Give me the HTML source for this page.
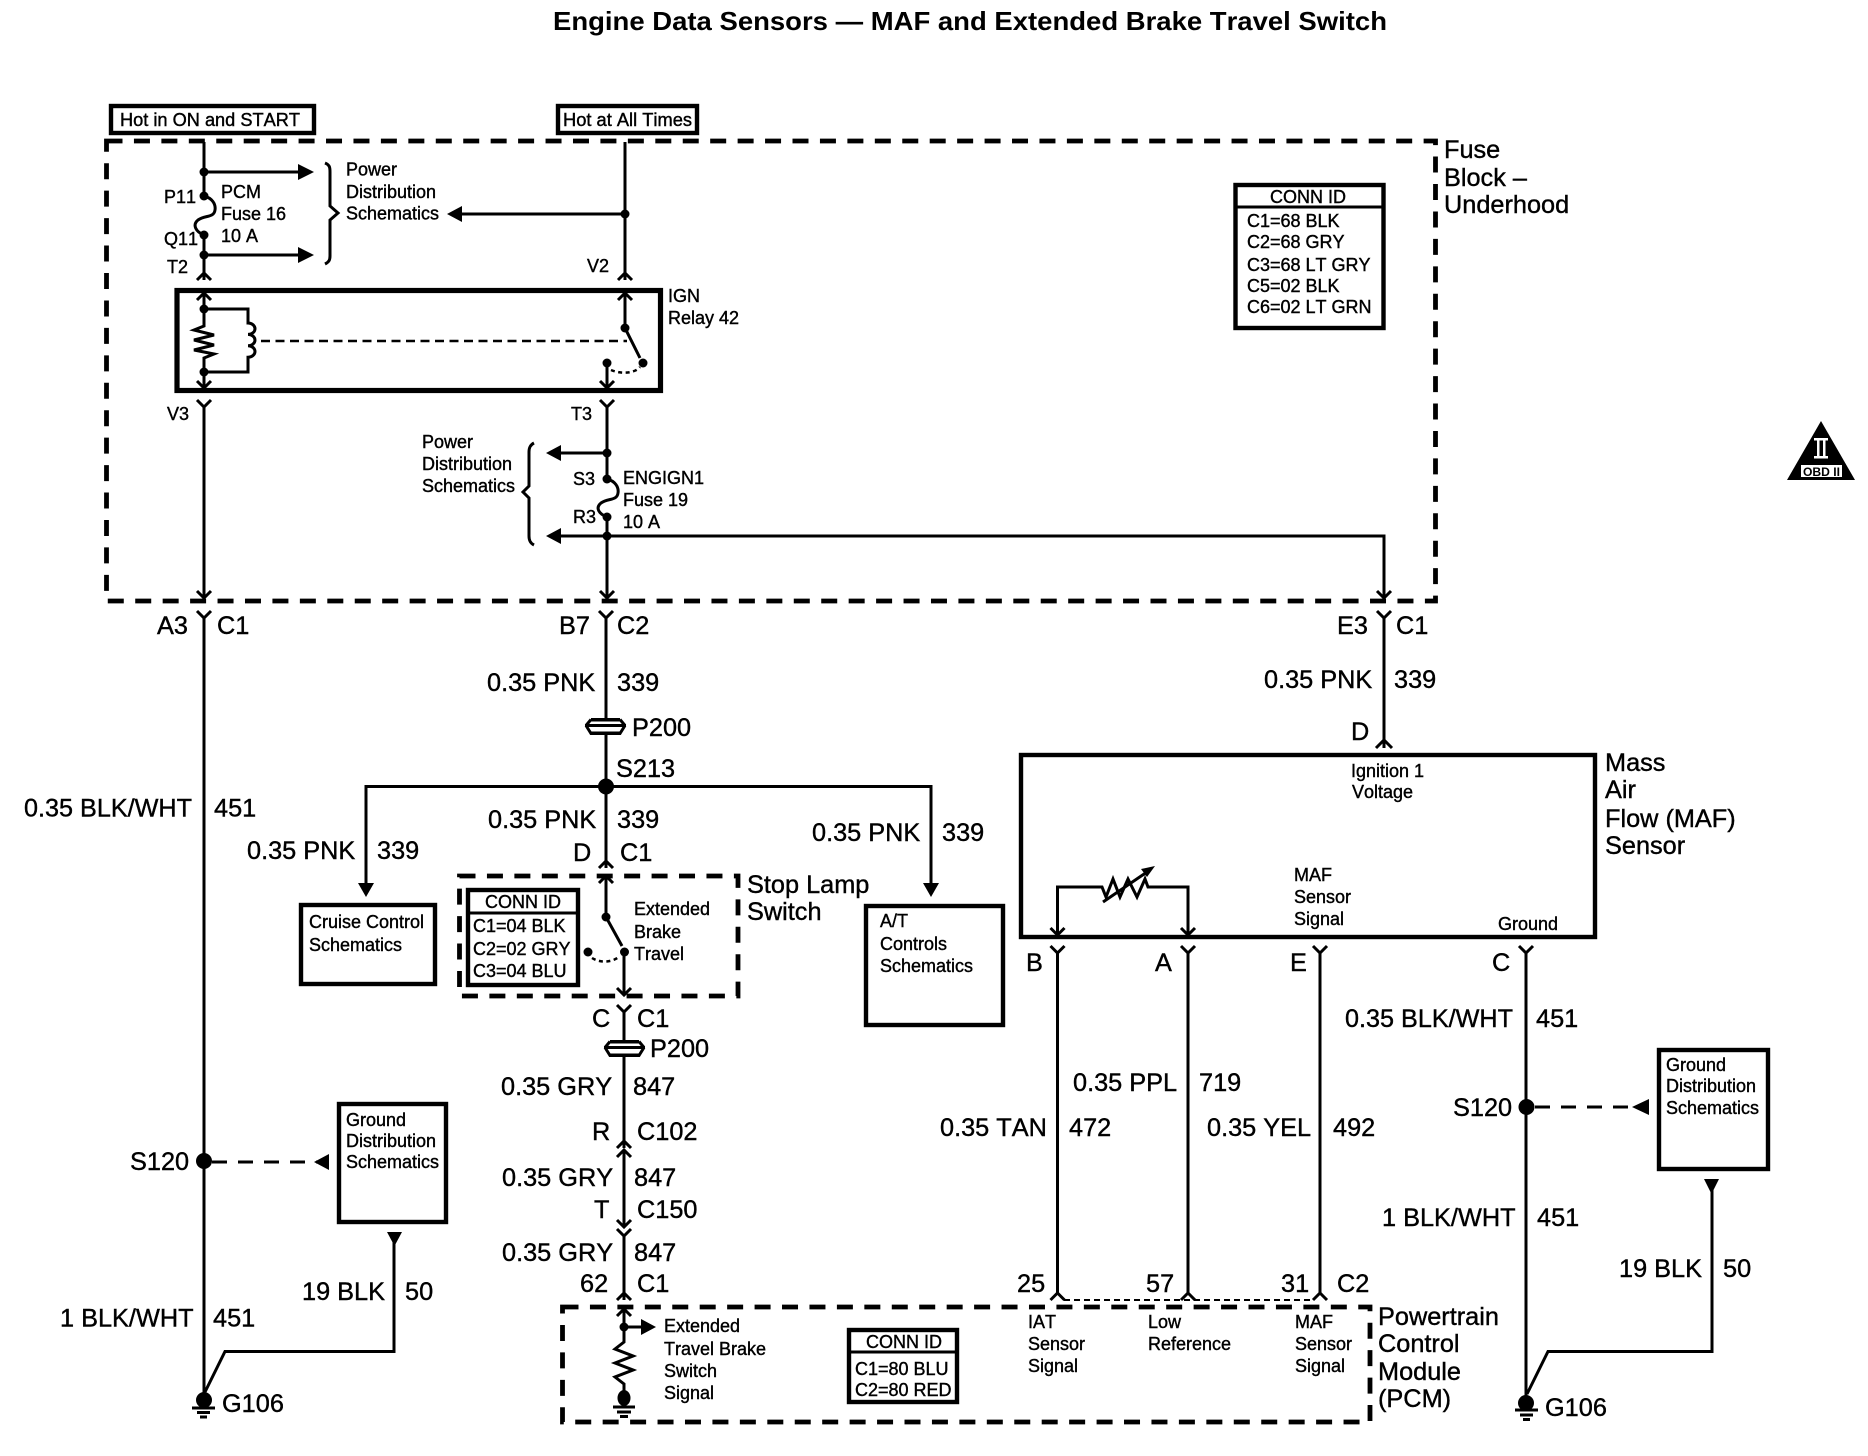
<!DOCTYPE html>
<html><head><meta charset="utf-8"><title>Engine Data Sensors</title>
<style>
html,body{margin:0;padding:0;background:#fff}
svg{display:block}
text{font-family:"Liberation Sans",sans-serif;fill:#000;stroke:#000;stroke-width:.4;font-kerning:none}
.s{font-size:18px}.l{font-size:25.3px}
.t{font-size:26px;font-weight:bold;stroke-width:0}
.w{fill:none;stroke:#000;stroke-width:3}
.b{fill:#fff;stroke:#000;stroke-width:4.4}
.d{fill:none;stroke:#000;stroke-width:4.8;stroke-dasharray:16 11.44}
.n{fill:#000;stroke:none}
</style></head><body>
<svg width="1868" height="1456" viewBox="0 0 1868 1456" xmlns="http://www.w3.org/2000/svg">
<rect width="1868" height="1456" fill="#fff"/>
<text class="t" x="553" y="30" textLength="834" lengthAdjust="spacingAndGlyphs">Engine Data Sensors — MAF and Extended Brake Travel Switch</text>

<!-- Dashed boxes -->
<rect class="d" x="106.5" y="141" width="1329" height="460"/>
<rect class="d" x="459.5" y="876" width="278.5" height="120"/>
<rect class="d" x="562.5" y="1307" width="807.5" height="115"/>

<!-- Hot boxes -->
<rect class="b" x="111" y="106" width="203" height="27"/>
<rect class="b" x="558" y="106" width="139" height="27"/>
<text class="s" x="120" y="126" textLength="180" lengthAdjust="spacingAndGlyphs">Hot in ON and START</text>
<text class="s" x="563" y="126" textLength="129" lengthAdjust="spacingAndGlyphs">Hot at All Times</text>

<!-- Left fuse feed -->
<path class="w" d="M204,142V196C212,198 216,204 215,210C214,218 205,215 198,220C192,225 196,232 204,235V280M197,280L204,273L211,280"/>
<path class="w" d="M204,172H300M204,255H300"/>
<path class="n" d="M298,164L314,172L298,180ZM298,247L314,255L298,263Z"/>
<circle class="n" cx="204" cy="172" r="4.5"/><circle class="n" cx="204" cy="196" r="4.5"/><circle class="n" cx="204" cy="235" r="4.5"/><circle class="n" cx="204" cy="255" r="4.5"/>
<path class="w" d="M325,163C330,165 330,168 330,172V206L338,213L330,220V256C330,260 329,262 325,264"/>
<text class="s" x="164" y="203">P11</text><text class="s" x="164" y="245">Q11</text><text class="s" x="167" y="273">T2</text>
<text class="s" x="221" y="198">PCM</text><text class="s" x="221" y="220">Fuse 16</text><text class="s" x="221" y="242">10 A</text>
<text class="s" x="346" y="175.5">Power</text><text class="s" x="346" y="198">Distribution</text><text class="s" x="346" y="219.5">Schematics</text>

<!-- Right feed -->
<path class="w" d="M625,142V280M618,280L625,273L632,280M625,214H460"/>
<path class="n" d="M462,206L447,214L462,222Z"/>
<circle class="n" cx="625" cy="214" r="4.5"/>
<text class="s" x="587" y="272">V2</text>

<!-- Relay -->
<rect x="177" y="290.5" width="483.5" height="100" fill="#fff" stroke="#000" stroke-width="5.2"/>
<text class="s" x="668" y="302">IGN</text><text class="s" x="668" y="324">Relay 42</text>
<path class="w" d="M204,293V326L194,330L214,335L194,340L214,345L194,350L214,354L204,358V388M197,381L204,388L211,381M197,300L204,293L211,300"/>
<path class="w" d="M204,309H248V323a7,5.7 0 0 1 0,11.4a7,5.7 0 0 1 0,11.4a7,5.7 0 0 1 0,11.4V372H204"/>
<circle class="n" cx="204" cy="309" r="4.5"/><circle class="n" cx="204" cy="372" r="4.5"/>
<path fill="none" stroke="#000" stroke-width="2.5" stroke-dasharray="9 5.5" d="M261,341H627"/>
<path class="w" d="M625,293V328L640,358M618,300L625,293L632,300M607,363V388M600,381L607,388L614,381"/>
<circle class="n" cx="625" cy="328" r="4.5"/><circle class="n" cx="643" cy="363" r="4.5"/><circle class="n" cx="607" cy="363" r="4.5"/>
<path fill="none" stroke="#000" stroke-width="2.5" stroke-dasharray="4 3.5" d="M611,370C620,374 634,374 640,367"/>

<!-- V3 wire (left main) -->
<path class="w" d="M197,400L204,407L211,400M204,407V598M197,591L204,598L211,591"/>
<text class="s" x="167" y="420">V3</text>

<!-- T3 wire -->
<path class="w" d="M600,400L607,407L614,400M607,407V479C615,481 619,487 618,493C617,501 608,498 601,503C595,508 599,514 607,517V598M600,591L607,598L614,591"/>
<path class="w" d="M607,453H560M607,536H560M607,536H1384V598M1377,591L1384,598L1391,591"/>
<path class="n" d="M561,445L546,453L561,461ZM561,528L546,536L561,544Z"/>
<circle class="n" cx="607" cy="453" r="4.5"/><circle class="n" cx="607" cy="479" r="4.5"/><circle class="n" cx="607" cy="517" r="4.5"/><circle class="n" cx="607" cy="536" r="4.5"/>
<path class="w" d="M534,443C530,445 529,448 529,452V486L523,492L529,498V536C529,540 530,543 534,545"/>
<text class="s" x="571" y="420">T3</text>
<text class="s" x="422" y="448">Power</text><text class="s" x="422" y="470">Distribution</text><text class="s" x="422" y="492">Schematics</text>
<text class="s" x="573" y="485">S3</text><text class="s" x="573" y="523">R3</text>
<text class="s" x="623" y="484">ENGIGN1</text><text class="s" x="623" y="506">Fuse 19</text><text class="s" x="623" y="528">10 A</text>

<!-- Fuse block label + conn id -->
<text class="l" x="1444" y="158">Fuse</text><text class="l" x="1444" y="186">Block –</text><text class="l" x="1444" y="213">Underhood</text>
<rect class="b" x="1235.5" y="185" width="148" height="143"/>
<path class="w" d="M1234,207H1385" stroke-width="2.5"/>
<text class="s" x="1270" y="203">CONN ID</text>
<text class="s" x="1247" y="227">C1=68 BLK</text><text class="s" x="1247" y="248">C2=68 GRY</text><text class="s" x="1247" y="271">C3=68 LT GRY</text><text class="s" x="1247" y="292">C5=02 BLK</text><text class="s" x="1247" y="313">C6=02 LT GRN</text>

<!-- OBD -->
<path class="n" d="M1821,421L1855,480H1787Z"/>
<rect x="1814" y="438" width="14" height="2.5" fill="#fff"/><rect x="1814" y="456" width="14" height="2.5" fill="#fff"/>
<rect x="1817" y="440" width="2.5" height="17" fill="#fff"/><rect x="1823" y="440" width="2.5" height="17" fill="#fff"/>
<rect x="1801" y="465" width="41" height="12" fill="#fff"/>
<text x="1803" y="476" font-size="12" font-weight="bold" style="stroke-width:0" textLength="37" lengthAdjust="spacingAndGlyphs">OBD II</text>

<!-- Lower left main wire -->
<path class="w" d="M197,611L204,618L211,611M204,618V1400"/>
<text class="l" x="157" y="634">A3</text><text class="l" x="217" y="634">C1</text>
<text class="l" x="24" y="816.5" textLength="168" lengthAdjust="spacingAndGlyphs">0.35 BLK/WHT</text><text class="l" x="214" y="816.5">451</text>
<circle class="n" cx="204" cy="1161" r="8"/>
<path fill="none" stroke="#000" stroke-width="3" stroke-dasharray="15 11" d="M212,1162H318"/>
<path class="n" d="M329,1154L314,1162L329,1170Z"/>
<text class="l" x="130" y="1170">S120</text>
<rect class="b" x="339" y="1104" width="107" height="118"/>
<text class="s" x="346" y="1126">Ground</text><text class="s" x="346" y="1147">Distribution</text><text class="s" x="346" y="1168">Schematics</text>
<path class="n" d="M387,1232H402L394.5,1246Z"/>
<path class="w" d="M394,1240V1351.5H225L205,1392"/>
<text class="l" x="302" y="1300">19 BLK</text><text class="l" x="405" y="1300">50</text>
<text class="l" x="60" y="1326.5">1 BLK/WHT</text><text class="l" x="213" y="1326.5">451</text>
<circle class="n" cx="204" cy="1400" r="8"/>
<path class="w" d="M192,1408H215M197,1412.5H210M200,1417H207" stroke-width="2"/>
<text class="l" x="222" y="1412">G106</text>

<!-- Center wire -->
<path class="w" d="M599,611L606,618L613,611M606,618V719"/>
<text class="l" x="559" y="634">B7</text><text class="l" x="617" y="634">C2</text>
<text class="l" x="487" y="691">0.35 PNK</text><text class="l" x="617" y="691">339</text>
<path class="w" d="M591,719.5H620M586,725.5L591,719.5M625,725.5L620,719.5M585,725.5H626M586,725.5L591,733.5H620L625,725.5" stroke-width="2.6"/>
<rect class="n" x="591" y="718" width="29" height="3.5"/><rect class="n" x="591" y="731.5" width="29" height="3.5"/>
<text class="l" x="632" y="736">P200</text>
<text class="l" x="616" y="777">S213</text>
<path class="w" d="M606,734V868M599,868L606,861L613,868M606,786.5H366V890M606,786.5H931V885"/>
<circle class="n" cx="606" cy="786.5" r="8"/>
<path class="n" d="M358,883H374L366,897ZM923,883H939L931,897Z"/>
<text class="l" x="488" y="828">0.35 PNK</text><text class="l" x="617" y="828">339</text>
<text class="l" x="247" y="859">0.35 PNK</text><text class="l" x="377" y="859">339</text>
<text class="l" x="812" y="841">0.35 PNK</text><text class="l" x="942" y="841">339</text>
<text class="l" x="573" y="861">D</text><text class="l" x="620" y="861">C1</text>
<text class="l" x="747" y="893">Stop Lamp</text><text class="l" x="747" y="920">Switch</text>

<!-- Cruise / AT boxes -->
<rect class="b" x="301" y="905" width="134" height="79"/>
<text class="s" x="309" y="928">Cruise Control</text><text class="s" x="309" y="951">Schematics</text>
<rect class="b" x="866" y="906" width="137" height="119"/>
<text class="s" x="880" y="927">A/T</text><text class="s" x="880" y="950">Controls</text><text class="s" x="880" y="972">Schematics</text>

<!-- Stop lamp internals -->
<rect class="b" x="468" y="890" width="110" height="95"/>
<path class="w" d="M468,913H578"/>
<text class="s" x="485" y="908">CONN ID</text>
<text class="s" x="473" y="932">C1=04 BLK</text><text class="s" x="473" y="955">C2=02 GRY</text><text class="s" x="473" y="977">C3=04 BLU</text>
<path class="w" d="M606,876V917L622,946M599,883L606,876L613,883M624,952V995M617,988L624,995L631,988"/>
<circle class="n" cx="606" cy="917" r="4.5"/><circle class="n" cx="624.5" cy="952" r="4.5"/><circle class="n" cx="588" cy="952" r="4.5"/>
<path fill="none" stroke="#000" stroke-width="2.5" stroke-dasharray="4 3.5" d="M592,958C600,963 612,963 620,956"/>
<text class="s" x="634" y="915">Extended</text><text class="s" x="634" y="938">Brake</text><text class="s" x="634" y="960">Travel</text>

<!-- Below switch -->
<path class="w" d="M617,1005L624,1012L631,1005M624,1012V1041"/>
<text class="l" x="592" y="1027">C</text><text class="l" x="637" y="1027">C1</text>
<path class="w" d="M610,1041.5H639M605,1047.5L610,1041.5M644,1047.5L639,1041.5M604,1047.5H645M605,1047.5L610,1055.5H639L644,1047.5" stroke-width="2.6"/>
<rect class="n" x="610" y="1040" width="29" height="3.5"/><rect class="n" x="610" y="1053.5" width="29" height="3.5"/>
<text class="l" x="650" y="1057">P200</text>
<path class="w" d="M624,1056V1148M617,1148L624,1141L631,1148M617,1157L624,1150L631,1157M624,1150V1227M617,1220L624,1227L631,1220M617,1229L624,1236L631,1229M624,1236V1300M617,1300L624,1293L631,1300"/>
<text class="l" x="501" y="1095">0.35 GRY</text><text class="l" x="633" y="1095">847</text>
<text class="l" x="592" y="1140">R</text><text class="l" x="637" y="1140">C102</text>
<text class="l" x="502" y="1186">0.35 GRY</text><text class="l" x="634" y="1186">847</text>
<text class="l" x="594" y="1218">T</text><text class="l" x="637" y="1218">C150</text>
<text class="l" x="502" y="1261">0.35 GRY</text><text class="l" x="634" y="1261">847</text>
<text class="l" x="580" y="1292">62</text><text class="l" x="637" y="1292">C1</text>

<!-- PCM internals -->
<path class="w" d="M617,1316L624,1309L631,1316M624,1309V1342L615,1349L633,1356L615,1363L633,1370L615,1377L624,1384V1399M624,1327H642"/>
<path class="n" d="M641,1319L656,1327L641,1335Z"/>
<circle class="n" cx="624" cy="1327" r="4.5"/><ellipse class="n" cx="624" cy="1398" rx="6.5" ry="8"/>
<path class="w" d="M613,1407H635M617,1412H631M620,1416.5H628" stroke-width="2"/>
<text class="s" x="664" y="1332">Extended</text><text class="s" x="664" y="1355">Travel Brake</text><text class="s" x="664" y="1377">Switch</text><text class="s" x="664" y="1399">Signal</text>
<rect class="b" x="849" y="1330" width="108" height="72"/>
<path class="w" d="M849,1352H957"/>
<text class="s" x="866" y="1348">CONN ID</text><text class="s" x="855" y="1375">C1=80 BLU</text><text class="s" x="855" y="1396">C2=80 RED</text>
<text class="s" x="1028" y="1328">IAT</text><text class="s" x="1028" y="1350">Sensor</text><text class="s" x="1028" y="1372">Signal</text>
<text class="s" x="1148" y="1328">Low</text><text class="s" x="1148" y="1350">Reference</text>
<text class="s" x="1295" y="1328">MAF</text><text class="s" x="1295" y="1350">Sensor</text><text class="s" x="1295" y="1372">Signal</text>
<text class="l" x="1378" y="1325">Powertrain</text><text class="l" x="1378" y="1352">Control</text><text class="l" x="1378" y="1380">Module</text><text class="l" x="1378" y="1407">(PCM)</text>
<path fill="none" stroke="#000" stroke-width="2" stroke-dasharray="6 4" d="M1064,1300H1314"/>
<text class="l" x="1017" y="1292">25</text><text class="l" x="1146" y="1292">57</text><text class="l" x="1281" y="1292">31</text><text class="l" x="1337" y="1292">C2</text>

<!-- MAF section -->
<path class="w" d="M1377,611L1384,618L1391,611M1384,618V748M1376,748L1384,740L1392,748"/>
<text class="l" x="1337" y="634">E3</text><text class="l" x="1396" y="634">C1</text>
<text class="l" x="1264" y="688">0.35 PNK</text><text class="l" x="1394" y="688">339</text>
<text class="l" x="1351" y="740">D</text>
<rect class="b" x="1021" y="755" width="574" height="182"/>
<text class="l" x="1605" y="771">Mass</text><text class="l" x="1605" y="798">Air</text><text class="l" x="1605" y="827">Flow (MAF)</text><text class="l" x="1605" y="854">Sensor</text>
<text class="s" x="1351" y="777">Ignition 1</text><text class="s" x="1352" y="798">Voltage</text>
<text class="s" x="1294" y="881">MAF</text><text class="s" x="1294" y="903">Sensor</text><text class="s" x="1294" y="925">Signal</text>
<text class="s" x="1498" y="930">Ground</text>
<path class="w" d="M1057.5,935V887H1102L1106,897L1113,879L1120,897L1128,879L1137,897L1145,879L1148,887H1188V935M1050.5,928L1057.5,935L1064.5,928M1181,928L1188,935L1195,928"/>
<path class="w" d="M1103,902L1150,870" stroke-width="2.5"/>
<path class="n" d="M1155,866L1141,869L1147,877Z"/>
<path class="w" d="M1050.5,946L1057.5,953L1064.5,946M1057.5,953V1294M1050.5,1300L1057.5,1293L1064.5,1300"/>
<path class="w" d="M1181,946L1188,953L1195,946M1188,953V1294M1181,1300L1188,1293L1195,1300"/>
<path class="w" d="M1313,946L1320,953L1327,946M1320,953V1294M1313,1300L1320,1293L1327,1300"/>
<path class="w" d="M1519,946L1526,953L1533,946M1526,953V1402"/>
<text class="l" x="1026" y="971">B</text><text class="l" x="1155" y="971">A</text><text class="l" x="1290" y="971">E</text><text class="l" x="1492" y="971">C</text>
<text class="l" x="1345" y="1027" textLength="168" lengthAdjust="spacingAndGlyphs">0.35 BLK/WHT</text><text class="l" x="1536" y="1027">451</text>
<text class="l" x="1073" y="1091">0.35 PPL</text><text class="l" x="1199" y="1091">719</text>
<text class="l" x="940" y="1136">0.35 TAN</text><text class="l" x="1069" y="1136">472</text>
<text class="l" x="1207" y="1136">0.35 YEL</text><text class="l" x="1333" y="1136">492</text>
<text class="l" x="1453" y="1116">S120</text>
<circle class="n" cx="1526.5" cy="1107" r="8"/>
<path fill="none" stroke="#000" stroke-width="3" stroke-dasharray="15 11" d="M1535,1107H1635"/>
<path class="n" d="M1649,1099L1632,1107L1649,1115Z"/>
<rect class="b" x="1659" y="1050" width="109" height="119"/>
<text class="s" x="1666" y="1071">Ground</text><text class="s" x="1666" y="1092">Distribution</text><text class="s" x="1666" y="1114">Schematics</text>
<path class="n" d="M1704,1179H1719L1711.5,1194Z"/>
<path class="w" d="M1712,1188V1351.5H1548L1527,1394"/>
<text class="l" x="1619" y="1277">19 BLK</text><text class="l" x="1723" y="1277">50</text>
<text class="l" x="1382" y="1226">1 BLK/WHT</text><text class="l" x="1537" y="1226">451</text>
<circle class="n" cx="1526" cy="1403" r="8"/>
<path class="w" d="M1515,1410H1538M1520,1415H1533M1523,1419.5H1530" stroke-width="2"/>
<text class="l" x="1545" y="1416">G106</text>
</svg>
</body></html>
